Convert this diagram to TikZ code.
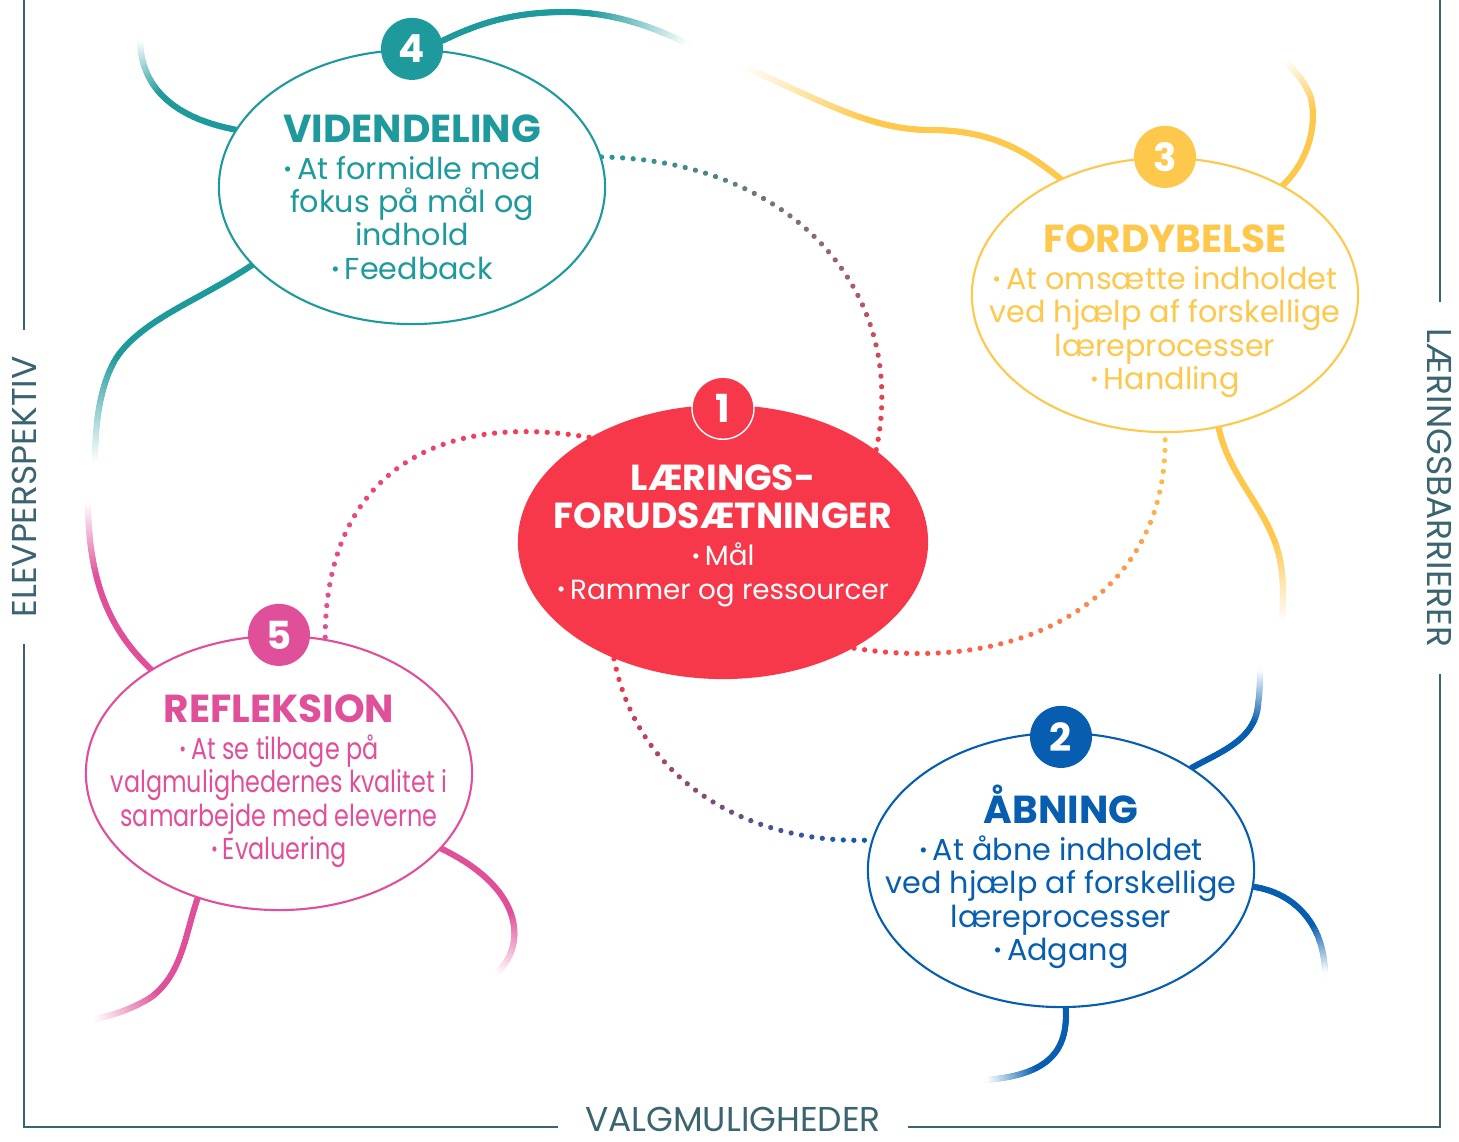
\documentclass[tikz,border=0pt]{standalone}
\usepackage{fontspec}
\setmainfont{Poppins}
\newfontfamily\narrowpoppins{Poppins}[FakeStretch=0.79]
\usetikzlibrary{shapes.geometric,decorations.markings,backgrounds}

\definecolor{vteal}{HTML}{1F9A9C}
\definecolor{vyellow}{HTML}{FDC84B}
\definecolor{vred}{HTML}{F7384A}
\definecolor{vpink}{HTML}{E0509A}
\definecolor{vblue}{HTML}{075EB0}
\definecolor{vframe}{HTML}{3A6470}

\newcommand\bul{{\fontsize{6}{6}\selectfont\raisebox{0.25ex}{•}}\,}
\newcommand\ttl[2][11.1]{{\normalfont\fontsize{#1}{13}\selectfont\bfseries #2}}

\begin{document}
\begin{tikzpicture}[x=0.01cm,y=-0.01cm,
  bubble/.style={ellipse,draw=#1,line width=0.6pt,fill=white,minimum width=3.86cm,minimum height=2.74cm,inner sep=0pt},
  bodytxt/.style={text=#1,align=center,font=\fontsize{8.6}{9.5}\selectfont},
  numcirc/.style={circle,fill=#1,text=white,minimum size=0.62cm,inner sep=0pt,font=\fontsize{11}{11}\selectfont\bfseries},
  sidelabel/.style={text=vframe,font=\fontsize{9.8}{12}\selectfont,inner xsep=0.26cm,inner ysep=0pt},
  framel/.style={draw=vframe,line width=0.6pt},
  wave/.style={postaction={decorate,decoration={markings,
    mark=between positions 0 and 1 step 0.4pt with {%
      \pgfmathsetmacro\wfr{\pgfkeysvalueof{/pgf/decoration/mark info/distance from start}/\pgfdecoratedpathlength}%
      \pgfmathtruncatemacro\wpc{max(0,min(100,(1-\wfr)*250))}%
      \fill[#1!\wpc!white] (0,0) circle (0.9pt);}}}},
  dotarc/.style 2 args={postaction={decorate,decoration={markings,
    mark=between positions 0 and 1 step 3pt with {%
      \pgfmathsetmacro\wfr{\pgfkeysvalueof{/pgf/decoration/mark info/distance from start}/\pgfdecoratedpathlength}%
      \pgfmathtruncatemacro\wpc{100*(1-\wfr)}%
      \fill[#1!\wpc!#2] (0,0) circle (0.75pt);}}}}]
\useasboundingbox (0,0) rectangle (1459,1141);

% frame
\coordinate (bl) at (24,1127);
\coordinate (br) at (1440,1127);
\node[sidelabel,rotate=90] (elev) at (24,487) {ELEVPERSPEKTIV};
\node[sidelabel] (valg) at (733,1119) {VALGMULIGHEDER};
\node[sidelabel,rotate=-90] (laer) at (1440,488) {LÆRINGSBARRIERER};
\draw[framel] (24,0) -- (elev.east);
\draw[framel] (elev.west) -- (bl) -- (valg.west |- bl);
\draw[framel] (valg.east |- br) -- (br) -- (laer.east);
\draw[framel] (1440,0) -- (laer.west);

% bubbles
\node[bubble=vteal] (vid) at (412,187) {};
\node[bubble=vyellow] (ford) at (1165,295) {};
\node[ellipse,fill=vred,minimum width=4.1cm,minimum height=2.74cm,inner sep=0pt] (lf) at (723,542) {};
\node[bubble=vpink] (refl) at (279,773) {};
\node[bubble=vblue] (abn) at (1061,870) {};

\node[numcirc=vteal] (n4) at (vid.north) {4};
\node[numcirc=vyellow] (n3) at (ford.north) {3};
\node[numcirc=vred,draw=white,line width=0.4pt] (n1) at ([yshift=-0.04cm]lf.north) {1};
\node[numcirc=vpink] (n5) at (refl.north) {5};
\node[numcirc=vblue] (n2) at ([yshift=-0.05cm]abn.north) {2};

\begin{scope}[on background layer]
  \path[wave=vteal] (n4.15) .. controls (475,25) and (510,12) .. (565,12) .. controls (610,12) and (650,25) .. (690,45);
  \path[wave=vteal] (vid.162) .. controls (185,120) and (140,95) .. (140,38);
  \path[wave=vteal] (vid.206) .. controls (200,300) and (140,320) .. (115,360) .. controls (98,390) and (95,430) .. (95,465);
  \path[wave=vpink] (refl.141) .. controls (112,632) and (88,585) .. (88,500);
  \path[wave=vpink] (refl.237) .. controls (185,935) and (182,975) .. (150,998) .. controls (130,1010) and (110,1016) .. (92,1020);
  \path[wave=vpink] (refl.-25) .. controls (490,872) and (518,905) .. (514,940) .. controls (512,955) and (505,965) .. (495,975);
  \path[wave=vblue] (abn.38) .. controls (1220,752) and (1255,740) .. (1258,705) .. controls (1260,690) and (1260,680) .. (1260,668);
  \path[wave=vblue] (abn.-5) .. controls (1295,893) and (1325,925) .. (1325,975);
  \path[wave=vblue] (abn.-88) .. controls (1068,1050) and (1050,1075) .. (985,1080);
  \path[wave=vyellow] (ford.132) .. controls (1025,150) and (990,130) .. (930,130) .. controls (870,130) and (820,100) .. (740,65);
  \path[wave=vyellow] (ford.43) .. controls (1310,160) and (1318,120) .. (1310,95) .. controls (1303,80) and (1295,70) .. (1283,60);
  \path[wave=vyellow] (ford.-68) .. controls (1230,480) and (1270,510) .. (1280,560) .. controls (1284,580) and (1283,600) .. (1282,625);
  % dotted links round the centre
  \path[dotarc={vteal}{vred}] (vid.9.5) .. controls (790,160) and (910,290) .. (lf.31.4);
  \path[dotarc={vred}{vpink}] (lf.142.7) .. controls (430,410) and (325,480) .. (refl.71);
  \path[dotarc={vred}{vyellow}] (lf.-39) .. controls (1020,675) and (1170,600) .. (ford.-90);
  \path[dotarc={vred}{vblue}] (lf.227.5) .. controls (640,790) and (760,845) .. (abn.171);
\end{scope}

% texts
\node[bodytxt=vteal] (vidtxt) at ([yshift=-0.1cm]vid.center) {\ttl{VIDENDELING}\\[1pt] \bul At formidle med\\ fokus på mål og\\ indhold\\ \bul Feedback};
\node[bodytxt=vyellow] (fordtxt) at ([yshift=-0.16cm]ford.center) {\ttl{FORDYBELSE}\\[1pt] \bul At omsætte indholdet\\ ved hjælp af forskellige\\ læreprocesser\\ \bul Handling};
\node[bodytxt=white,font=\fontsize{7.9}{9.5}\selectfont] (lftxt) at ([yshift=0.06cm]lf.center) {\ttl[10.3]{LÆRINGS-}\\[1.3pt] \ttl[10.3]{FORUDSÆTNINGER}\\[1pt] \bul Mål\\ \bul Rammer og ressourcer};
\node[bodytxt=vpink,font=\narrowpoppins\fontsize{8.6}{9.5}\selectfont] (refltxt) at ([yshift=-0.08cm]refl.center) {\ttl{REFLEKSION}\\[1pt] \bul At se tilbage på\\ valgmulighedernes kvalitet i\\ samarbejde med eleverne\\ \bul Evaluering};
\node[bodytxt=vblue] (abntxt) at ([yshift=-0.07cm]abn.center) {\ttl{ÅBNING}\\[1pt] \bul At åbne indholdet\\ ved hjælp af forskellige\\ læreprocesser\\ \bul Adgang};
\end{tikzpicture}
\end{document}
